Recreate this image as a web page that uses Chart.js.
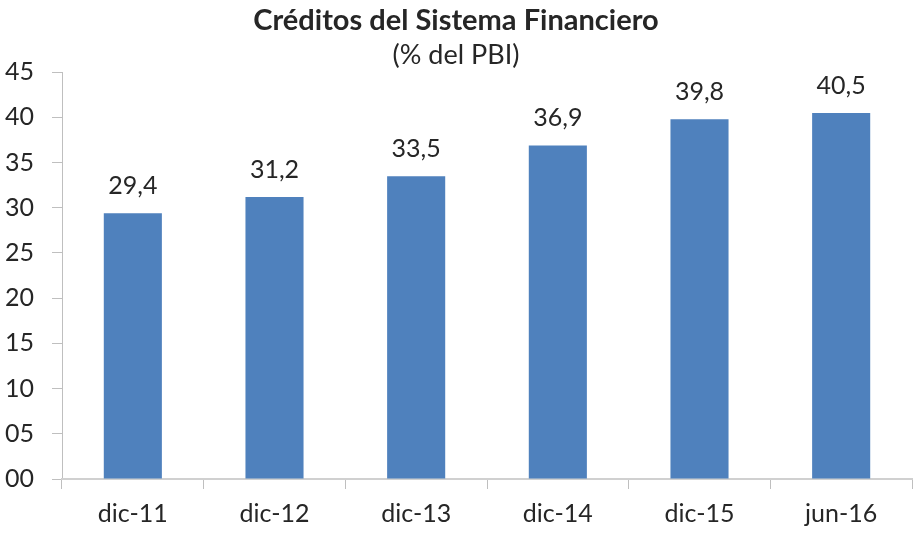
<!DOCTYPE html>
<html>
<head>
<meta charset="utf-8">
<script src="https://cdn.jsdelivr.net/npm/chart.js@4"></script>
<style>
  html, body { margin: 0; padding: 0; background: #fff; }
  #wrap { width: 915px; height: 533px; }
</style>
</head>
<body>
<div id="wrap"><canvas id="creditChart"></canvas></div>
<script>
const categories = ['dic-11', 'dic-12', 'dic-13', 'dic-14', 'dic-15', 'jun-16'];
const creditValues = [29.4, 31.2, 33.5, 36.9, 39.8, 40.5];
const yTicks = [0, 5, 10, 15, 20, 25, 30, 35, 40, 45];

const FONT = 'Lato, "Open Sans", sans-serif';
const TEXT = '#262626';

// value labels above each bar, decimal comma
const valueLabels = {
    id: 'valueLabels',
    afterDatasetsDraw(chart) {
        const ctx = chart.ctx;
        const meta = chart.getDatasetMeta(0);
        ctx.save();
        ctx.font = '25px ' + FONT;
        ctx.fillStyle = TEXT;
        ctx.textAlign = 'center';
        ctx.textBaseline = 'alphabetic';
        meta.data.forEach((bar, i) => {
            const txt = creditValues[i].toFixed(1).replace('.', ',');
            ctx.fillText(txt, bar.x, bar.y - 19);
        });
        ctx.restore();
    }
};

const chart = new Chart(document.getElementById('creditChart').getContext('2d'), {
    type: 'bar',
    data: {
        labels: categories,
        datasets: [{
            data: creditValues,
            backgroundColor: '#4F81BD',
            borderWidth: 0,
            categoryPercentage: 1,
            barPercentage: 0.41
        }]
    },
    options: {
        responsive: true,
        maintainAspectRatio: false,
        animation: false,
        layout: { padding: { left: 0, right: 3, top: 0, bottom: 0 } },
        plugins: {
            legend: { display: false },
            tooltip: { enabled: false },
            title: {
                display: true,
                text: 'Créditos del Sistema Financiero',
                color: TEXT,
                font: { family: FONT, size: 29, weight: 'bold' },
                padding: { top: 3, bottom: 0 }
            },
            subtitle: {
                display: true,
                text: '(% del PBI)',
                color: TEXT,
                font: { family: FONT, size: 27 },
                padding: { top: 1, bottom: 1 }
            }
        },
        scales: {
            y: {
                min: 0,
                max: 45,
                afterBuildTicks: axis => { axis.ticks = yTicks.map(v => ({ value: v })); },
                afterFit: axis => { axis.width = 62; },
                ticks: {
                    color: TEXT,
                    font: { family: FONT, size: 25 },
                    padding: 18,
                    callback: v => String(v).padStart(2, '0')
                },
                grid: { drawOnChartArea: false, drawTicks: true, tickLength: 10, color: '#BFBFBF' },
                border: { color: '#BFBFBF', width: 1 }
            },
            x: {
                afterFit: axis => { axis.height = 54; },
                ticks: {
                    color: TEXT,
                    font: { family: FONT, size: 25 },
                    padding: 10
                },
                grid: { offset: true, drawOnChartArea: false, drawTicks: true, tickLength: 10, color: '#BFBFBF' },
                border: { color: '#D0D0D0', width: 2 }
            }
        }
    },
    plugins: [valueLabels]
});
</script>
</body>
</html>
